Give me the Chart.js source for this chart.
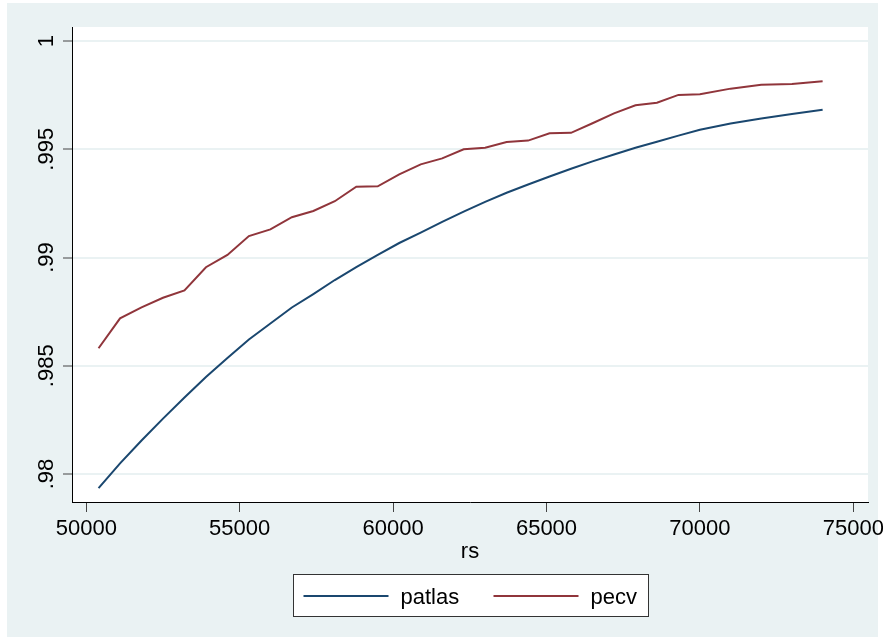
<!DOCTYPE html>
<html>
<head>
<meta charset="utf-8">
<script src="https://cdn.jsdelivr.net/npm/chart.js@4.4.0/dist/chart.umd.min.js"></script>
<style>
  html, body { margin: 0; padding: 0; background: #ffffff; }
  canvas { display: block; }
</style>
</head>
<body>
<canvas id="c" width="883" height="642"></canvas>
<script>
// rs values (x)
const rs = [
  50400, 51100, 51800, 52500, 53200, 53900, 54600, 55300, 56000, 56700,
  57400, 58100, 58800, 59500, 60200, 60900, 61600, 62300, 63000, 63700,
  64400, 65100, 65800, 66500, 67200, 67900, 68600, 69300, 70000, 71000,
  72000, 73000, 74000
];

// patlas series
const patlas = [
  0.97935, 0.98049, 0.98155, 0.98256, 0.98353, 0.98448, 0.98536, 0.98621, 0.98695, 0.98769,
  0.98831, 0.98896, 0.98956, 0.99012, 0.99067, 0.99115, 0.99165, 0.99212, 0.99257, 0.99299,
  0.99337, 0.99374, 0.99410, 0.99444, 0.99476, 0.99507, 0.99535, 0.99563, 0.99590, 0.99619,
  0.99642, 0.99663, 0.99683
];

// pecv series
const pecv = [
  0.98581, 0.98719, 0.98770, 0.98814, 0.98848, 0.98955, 0.99012, 0.99099, 0.99130, 0.99186,
  0.99215, 0.99260, 0.99327, 0.99329, 0.99384, 0.99430, 0.99458, 0.99500, 0.99507, 0.99533,
  0.99540, 0.99574, 0.99576, 0.99620, 0.99666, 0.99703, 0.99715, 0.99751, 0.99754, 0.99780,
  0.99798, 0.99801, 0.99814
];

const seriesNames = ['patlas', 'pecv'];
const xTicks = [50000, 55000, 60000, 65000, 70000, 75000];
const yTicks = [0.98, 0.985, 0.99, 0.995, 1];
const yTickLabels = ['.98', '.985', '.99', '.995', '1'];
const xTitle = 'rs';

const FONT = '"Liberation Sans", Arial, Helvetica, sans-serif';
const BG = '#eaf2f3';
const COLORS = ['#1a476f', '#90353b'];

const pts = (ys) => rs.map((x, i) => ({ x: x, y: ys[i] }));

// Backgrounds, rotated y labels and the boxed legend
const frame = {
  id: 'frame',
  beforeDraw(chart) {
    const { ctx, chartArea: a } = chart;
    ctx.save();
    ctx.fillStyle = '#ffffff';
    ctx.fillRect(0, 0, chart.width, chart.height);
    ctx.fillStyle = BG;
    ctx.fillRect(7, 3, 871, 634);
    ctx.fillStyle = '#ffffff';
    ctx.fillRect(a.left, a.top, a.right - a.left, a.bottom - a.top);
    ctx.restore();
  },
  afterDraw(chart) {
    const { ctx, chartArea: a } = chart;
    const ys = chart.scales.y;
    ctx.save();
    ctx.font = '22px ' + FONT;
    ctx.fillStyle = '#000000';
    ctx.textAlign = 'center';
    ctx.textBaseline = 'alphabetic';
    yTicks.forEach((v, i) => {
      const py = ys.getPixelForValue(v);
      ctx.save();
      ctx.translate(a.left - 19, py);
      ctx.rotate(-Math.PI / 2);
      ctx.fillText(yTickLabels[i], 0, 0);
      ctx.restore();
    });

    // legend
    const boxW = 355, boxH = 42;
    const bx = Math.round((a.left + a.right) / 2 - boxW / 2) + 0.5;
    const by = 574.5;
    ctx.fillStyle = '#ffffff';
    ctx.fillRect(bx, by, boxW, boxH);
    ctx.strokeStyle = '#333333';
    ctx.lineWidth = 1;
    ctx.strokeRect(bx, by, boxW, boxH);
    const items = [
      { line: 10, text: 107 },
      { line: 200, text: 297 }
    ];
    chart.data.datasets.forEach((ds, i) => {
      const it = items[i];
      ctx.strokeStyle = ds.borderColor;
      ctx.lineWidth = 2;
      ctx.beginPath();
      ctx.moveTo(bx + it.line, 596);
      ctx.lineTo(bx + it.line + 85, 596);
      ctx.stroke();
      ctx.fillStyle = '#000000';
      ctx.textAlign = 'left';
      ctx.textBaseline = 'alphabetic';
      ctx.fillText(ds.label, bx + it.text, 603.5);
    });
    ctx.restore();
  }
};

new Chart(document.getElementById('c'), {
  type: 'line',
  data: {
    datasets: [
      { label: seriesNames[0], data: pts(patlas), borderColor: COLORS[0], borderWidth: 2, pointRadius: 0, fill: false, tension: 0 },
      { label: seriesNames[1], data: pts(pecv), borderColor: COLORS[1], borderWidth: 2, pointRadius: 0, fill: false, tension: 0 }
    ]
  },
  options: {
    responsive: false,
    animation: false,
    events: [],
    layout: { padding: { left: 0, top: 27, right: 15, bottom: 0 } },
    plugins: {
      legend: { display: false },
      tooltip: { enabled: false }
    },
    scales: {
      x: {
        type: 'linear',
        min: 49534,
        max: 75479,
        afterBuildTicks(s) { s.ticks = xTicks.map(v => ({ value: v })); },
        afterFit(s) { s.height = 140; s.paddingLeft = 0; s.paddingRight = 0; },
        ticks: {
          autoSkip: false,
          maxRotation: 0,
          minRotation: 0,
          padding: 4,
          color: '#000000',
          font: { family: FONT, size: 22 },
          callback: (v) => String(v)
        },
        grid: {
          drawOnChartArea: false,
          drawTicks: true,
          tickLength: 10,
          tickColor: '#444444',
          tickWidth: 1
        },
        border: { display: true, color: '#000000', width: 1 },
        title: {
          display: true,
          text: xTitle,
          color: '#000000',
          font: { family: FONT, size: 22 },
          padding: { top: 0, bottom: 77 }
        }
      },
      y: {
        type: 'linear',
        min: 0.978707,
        max: 1.000647,
        afterBuildTicks(s) { s.ticks = yTicks.map(v => ({ value: v })); },
        afterFit(s) { s.width = 72; s.paddingTop = 0; s.paddingBottom = 0; },
        ticks: { display: false },
        grid: {
          drawOnChartArea: true,
          color: BG,
          lineWidth: 2,
          drawTicks: true,
          tickLength: 9,
          tickColor: '#444444',
          tickWidth: 1
        },
        border: { display: true, color: '#000000', width: 1 }
      }
    }
  },
  plugins: [frame]
});
</script>
</body>
</html>
